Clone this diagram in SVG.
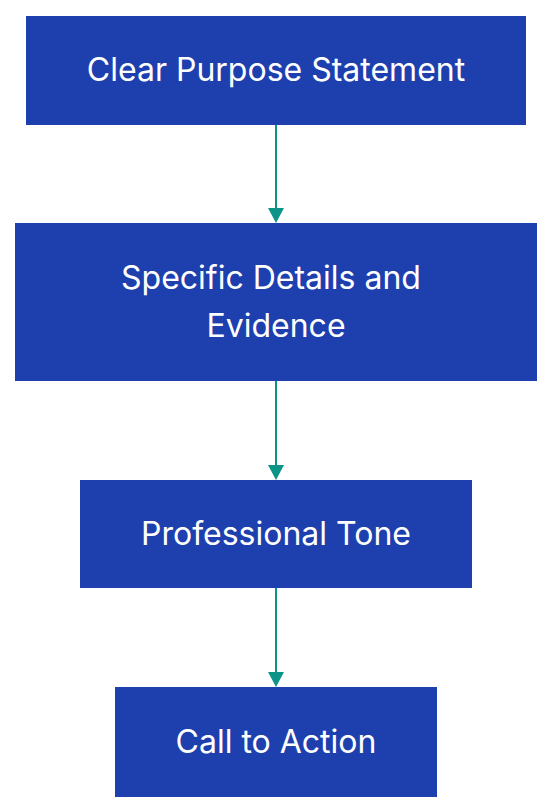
<svg xmlns="http://www.w3.org/2000/svg" width="552" height="812" viewBox="0 0 552 812">
<style>
.node rect{fill:#1e40af;}
.node text{fill:#ffffff;font-family:Inter,"Noto Sans",sans-serif;font-size:32px;text-anchor:middle;}
.edge{stroke:#0d9488;stroke-width:2;fill:none;}
.head{fill:#0d9488;}
</style>
<rect width="552" height="812" fill="#ffffff"/>
<g id="connectors">
<path class="edge" d="M276,125 V209"/>
<path class="head" d="M268,208 L284,208 L276,223 Z"/>
<path class="edge" d="M276,381 V466"/>
<path class="head" d="M268,465 L284,465 L276,480 Z"/>
<path class="edge" d="M276,588 V673"/>
<path class="head" d="M268,672 L284,672 L276,687 Z"/>
</g>
<g id="n1" class="node">
<rect x="26" y="16" width="500" height="109"/>
<text x="276" y="81">Clear Purpose Statement</text>
</g>
<g id="n2" class="node">
<rect x="15" y="223" width="522" height="158"/>
<text x="271" y="289">Specific Details and</text>
<text x="276" y="337">Evidence</text>
</g>
<g id="n3" class="node">
<rect x="80" y="480" width="392" height="108"/>
<text x="276" y="545">Professional Tone</text>
</g>
<g id="n4" class="node">
<rect x="115" y="687" width="322" height="110"/>
<text x="276" y="753">Call to Action</text>
</g>
</svg>
